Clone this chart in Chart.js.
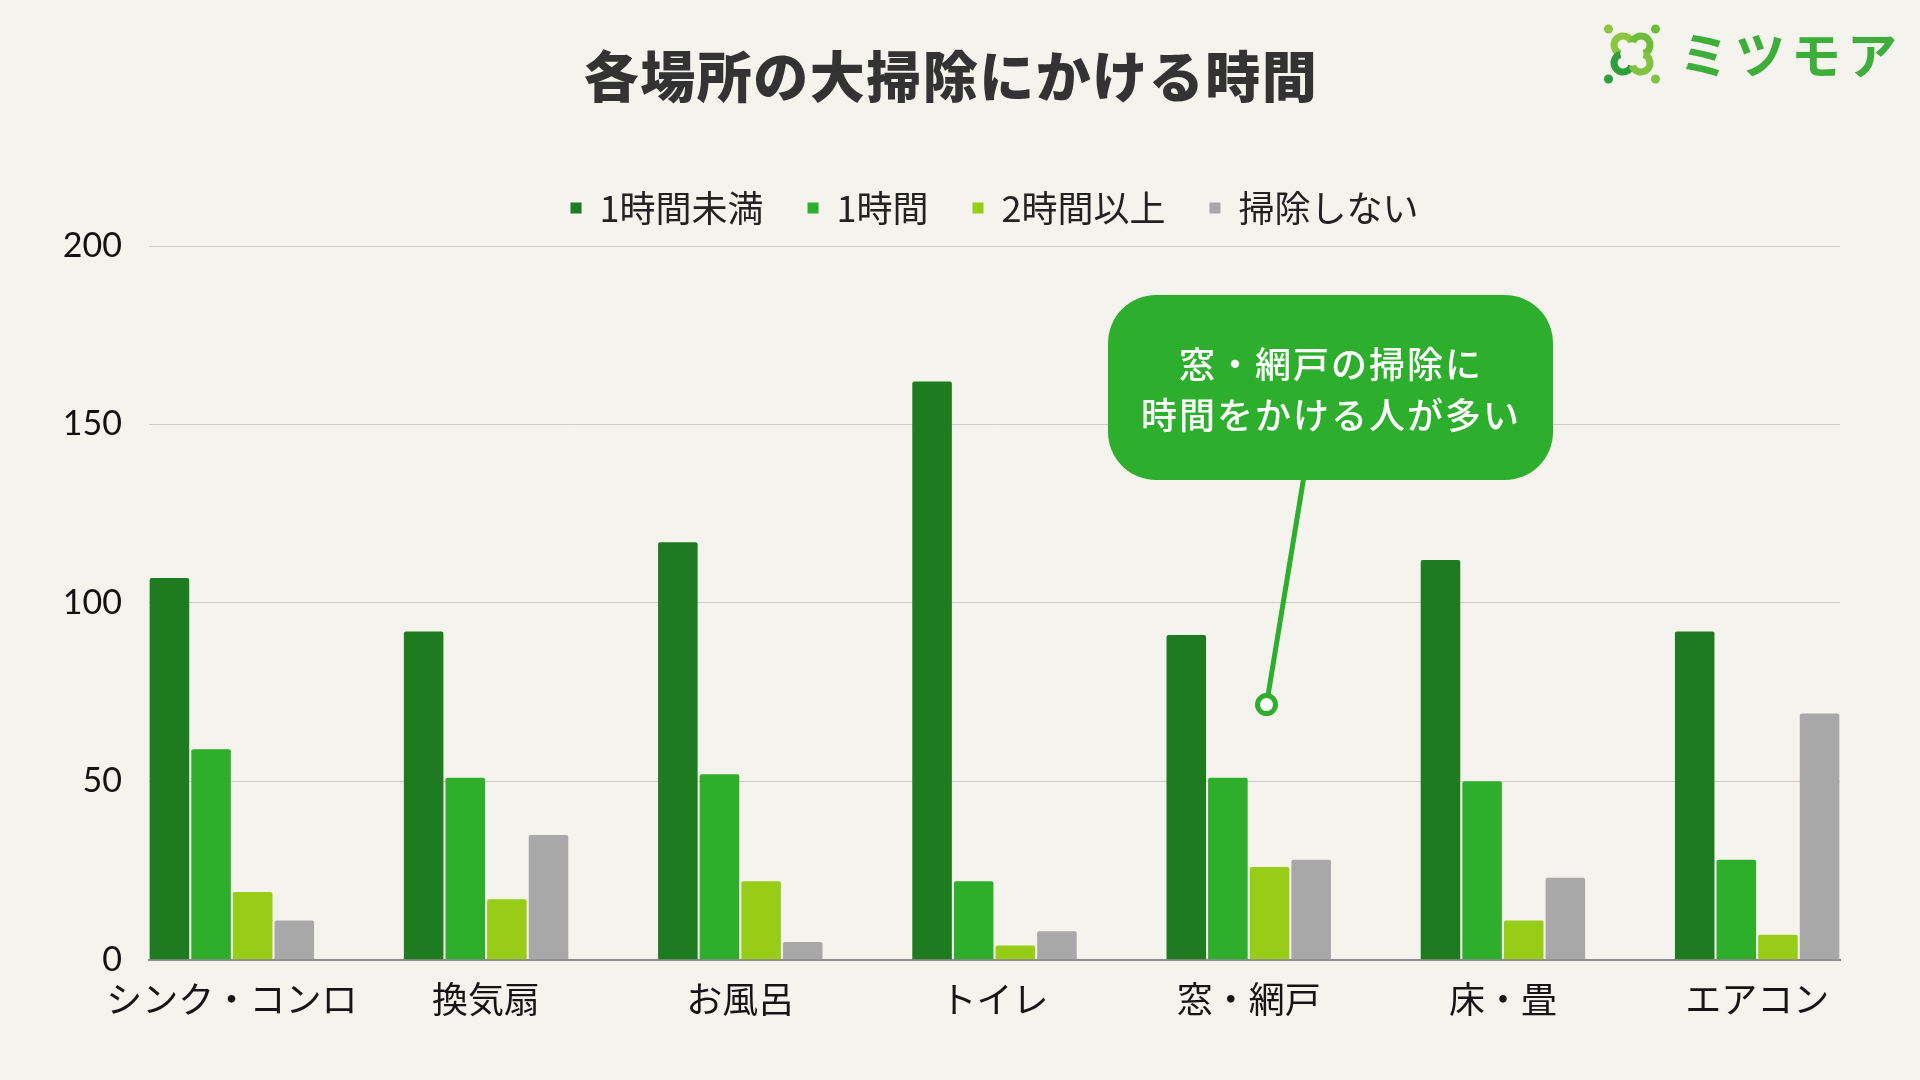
<!DOCTYPE html>
<html lang="ja">
<head>
<meta charset="utf-8">
<title>各場所の大掃除にかける時間</title>
<script src="https://cdn.jsdelivr.net/npm/chart.js@4.4.1/dist/chart.umd.min.js"></script>
<style>
  html, body { margin: 0; padding: 0; background: #f5f3ee; }
  #wrap { width: 1920px; height: 1080px; }
</style>
</head>
<body>
<div id="wrap"><canvas id="chart" width="1920" height="1080"></canvas></div>
<script>
// data
const places = ['シンク・コンロ', '換気扇', 'お風呂', 'トイレ', '窓・網戸', '床・畳', 'エアコン']
const under1h = [107, 92, 117, 162, 91, 112, 92]
const oneHour = [59, 51, 52, 22, 51, 50, 28]
const over2h = [19, 17, 22, 4, 26, 11, 7]
const noCleaning = [11, 35, 5, 8, 28, 23, 69]
const seriesNames = ['1時間未満', '1時間', '2時間以上', '掃除しない']
const seriesColors = ['#1f7b1f', '#2eae2b', '#97cd17', '#a8a8a8']

const titleText = '各場所の大掃除にかける時間'
const calloutLines = ['窓・網戸の掃除に', '時間をかける人が多い']
const calloutIndex = 4      // points at 窓・網戸
const calloutValue = 71.5

const JP = "'Noto Sans CJK JP', 'Noto Sans', sans-serif"

const toXY = arr => arr.map((v, i) => ({x: i, y: v}))
const allSeries = [under1h, oneHour, over2h, noCleaning]

const datasets = allSeries.map((s, k) => ({
  label: seriesNames[k],
  data: toXY(s),
  backgroundColor: seriesColors[k],
  borderRadius: 2,
  borderSkipped: 'start',
  categoryPercentage: 0.655,
  barPercentage: 0.95
}))

const decor = {
  id: 'decor',
  beforeDraw(chart) {
    const ctx = chart.ctx
    ctx.save()
    ctx.fillStyle = '#f5f3ee'
    ctx.fillRect(0, 0, chart.width, chart.height)
    ctx.restore()
  },
  afterDraw(chart) {
    const ctx = chart.ctx
    ctx.save()

    // title
    ctx.fillStyle = '#333333'
    ctx.font = `900 55px ${JP}`
    ctx.textAlign = 'center'
    ctx.textBaseline = 'middle'
    ctx.letterSpacing = '1.5px'
    ctx.fillText(titleText, 951, 76)

    // logo
    const cx = 1632, cy = 54
    const lobes = [[-1, -1, '#8cc63e'], [1, -1, '#6dbd3a'], [-1, 1, '#2f9e3b'], [1, 1, '#80c341']]
    ctx.lineWidth = 7
    lobes.forEach(([dx, dy, col]) => {
      const ox = cx + dx * 9, oy = cy + dy * 9
      const start = Math.atan2(-dy, -dx) + Math.PI / 4
      ctx.strokeStyle = col
      ctx.beginPath()
      ctx.arc(ox, oy, 9, start + 0.3, start + Math.PI * 1.5 - 0.3)
      ctx.stroke()
      ctx.fillStyle = col
      ctx.beginPath()
      ctx.arc(cx + dx * 23.5, cy + dy * 25, 4.5, 0, Math.PI * 2)
      ctx.fill()
    })
    ctx.fillStyle = '#3dae3a'
    ctx.font = `600 50px ${JP}`
    ctx.textAlign = 'left'
    ctx.letterSpacing = '6px'
    ctx.fillText('ミツモア', 1679, 55)

    // callout
    const green = '#2eae2d'
    const px = chart.scales.x.getPixelForValue(calloutIndex + 0.07)
    const py = chart.scales.y.getPixelForValue(calloutValue)
    ctx.strokeStyle = green
    ctx.lineWidth = 5
    ctx.beginPath()
    ctx.moveTo(1304, 476)
    ctx.lineTo(px, py)
    ctx.stroke()
    ctx.fillStyle = '#ffffff'
    ctx.beginPath()
    ctx.arc(px, py, 9, 0, Math.PI * 2)
    ctx.fill()
    ctx.stroke()

    ctx.fillStyle = green
    ctx.beginPath()
    ctx.roundRect(1108, 295, 445, 185, 48)
    ctx.fill()
    ctx.fillStyle = '#ffffff'
    ctx.font = `500 36px ${JP}`
    ctx.textAlign = 'center'
    ctx.letterSpacing = '2px'
    ctx.fillText(calloutLines[0], 1331, 364)
    ctx.fillText(calloutLines[1], 1331, 415)
    ctx.restore()
  }
}

const chart = new Chart(document.getElementById('chart'), {
  type: 'bar',
  data: {datasets},
  plugins: [decor],
  options: {
    responsive: false,
    animation: false,
    devicePixelRatio: 1,
    layout: {padding: {top: 146, right: 80, bottom: 41, left: 0}},
    plugins: {
      tooltip: {enabled: false},
      legend: {
        position: 'top',
        fullSize: false,
        labels: {
          font: {family: JP, size: 36},
          color: '#222222',
          boxWidth: 11,
          boxHeight: 11,
          padding: 44
        }
      }
    },
    scales: {
      x: {
        type: 'linear',
        min: -0.326,
        max: 6.326,
        offset: false,
        grid: {display: false, drawTicks: false},
        border: {color: '#8c8c8c', width: 2},
        ticks: {
          stepSize: 1,
          includeBounds: false,
          autoSkip: false,
          maxRotation: 0,
          padding: 18,
          color: '#151515',
          font: {family: JP, size: 36},
          callback: v => (Number.isInteger(v) && places[v] !== undefined) ? places[v] : ''
        }
      },
      xTop: {
        type: 'linear',
        position: 'top',
        grid: {display: false, drawTicks: false},
        border: {display: false},
        ticks: {display: false},
        afterFit: s => { s.height = 10 }
      },
      y: {
        min: 0,
        max: 200,
        ticks: {
          stepSize: 50,
          padding: 27,
          color: '#111111',
          font: {family: 'Lato', size: 34}
        },
        grid: {color: '#cfcccb', drawTicks: false},
        border: {display: false},
        afterFit: s => { s.width = 149 }
      }
    }
  }
})
</script>
</body>
</html>
